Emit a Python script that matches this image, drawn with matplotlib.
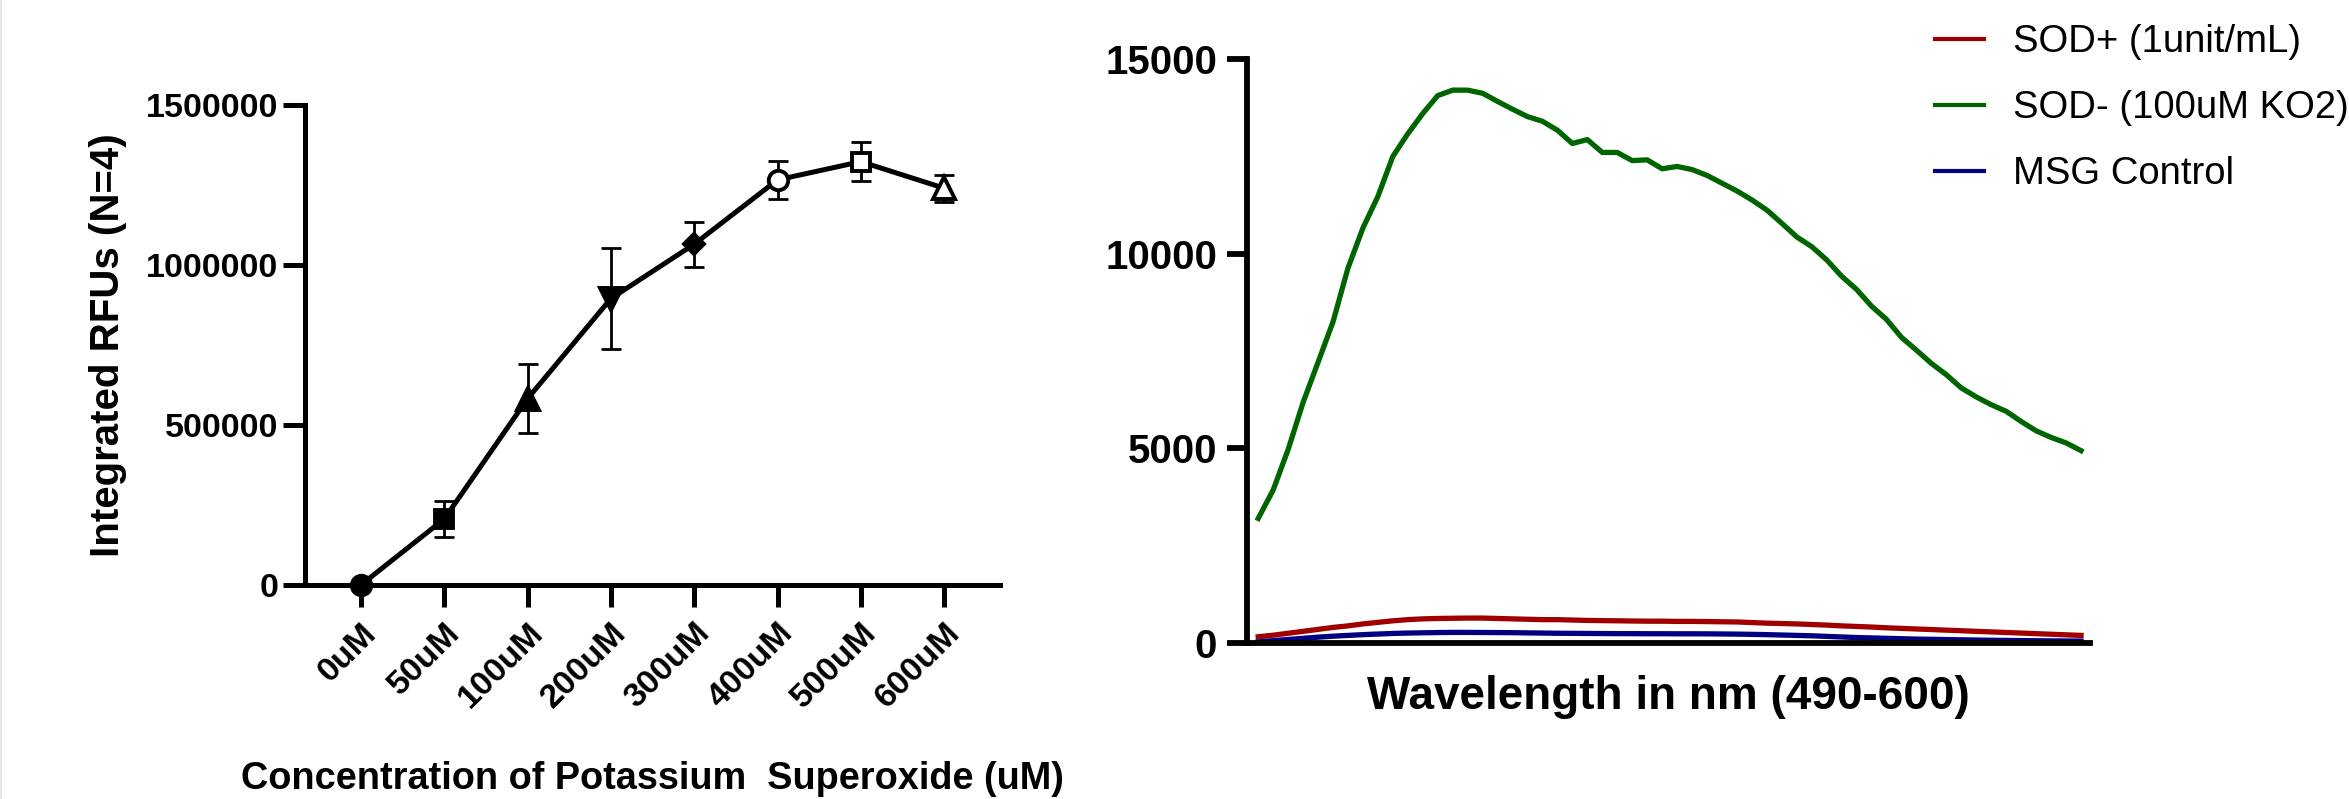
"""Potassium superoxide dose response and emission spectra"""
import matplotlib
matplotlib.use("Agg")
import matplotlib.pyplot as plt
from matplotlib.lines import Line2D

plt.rcParams['font.family'] = ['Liberation Sans', 'DejaVu Sans']

# left panel: integrated RFUs vs KO2 concentration
conc_labels = ["0uM", "50uM", "100uM", "200uM", "300uM", "400uM", "500uM", "600uM"]
rfu_mean = [0, 206000, 582000, 895000, 1065000, 1266000, 1323000, 1240000]
rfu_err = [0, 57000, 108000, 157000, 70000, 60000, 62000, 42000]
markers = ["o", "s", "^", "v", "D", "o", "s", "^"]
filled = [True, True, True, True, True, False, False, False]

# right panel: emission spectra, 490-600 nm in 2 nm steps
wavelength = list(range(490, 601, 2))
sod_minus = [3200, 3930, 4970, 6180, 7210, 8250, 9630, 10660, 11470, 12500,
             13080, 13600, 14060, 14200, 14200, 14120, 13910, 13710, 13520, 13400,
             13170, 12830, 12930, 12600, 12600, 12390, 12410, 12180, 12240, 12160,
             12010, 11810, 11610, 11380, 11120, 10780, 10430, 10180, 9840, 9420,
             9080, 8650, 8310, 7850, 7520, 7180, 6890, 6550, 6320, 6120,
             5950, 5690, 5450, 5280, 5140, 4940]
sod_plus = [160, 200, 250, 300, 350, 400, 440, 490, 530, 570,
            600, 620, 630, 635, 640, 640, 630, 620, 610, 600,
            600, 590, 580, 575, 570, 565, 560, 560, 555, 555,
            550, 545, 540, 525, 510, 500, 490, 475, 460, 440,
            425, 410, 390, 375, 360, 345, 330, 315, 300, 285,
            270, 255, 240, 225, 210, 195]
msg_control = [30, 60, 90, 120, 150, 175, 195, 215, 230, 245,
               255, 262, 268, 272, 272, 270, 268, 265, 260, 255,
               250, 248, 245, 243, 240, 240, 238, 238, 236, 236,
               235, 232, 228, 222, 215, 205, 195, 185, 170, 155,
               140, 130, 120, 110, 100, 95, 88, 82, 76, 70,
               66, 62, 58, 55, 52, 50]

W, H = 2349, 799
fig = plt.figure(figsize=(W / 100, H / 100), dpi=100)

# ---- left panel ----
ax1 = fig.add_axes([305 / W, (H - 585) / H, 695 / W, 480 / H])
xpos = list(range(len(conc_labels)))
ax1.errorbar(xpos, rfu_mean, yerr=rfu_err, fmt="none", ecolor="black",
             elinewidth=2, capsize=7, capthick=2, zorder=2)
ax1.plot(xpos, rfu_mean, color="black", lw=3.6, zorder=3, clip_on=False)
for x, y, m, f in zip(xpos, rfu_mean, markers, filled):
    size = {"o": 14, "s": 13.5, "^": 16, "v": 16, "D": 10}[m]
    ax1.plot(x, y, marker=m, ms=size, color="black",
             mfc="black" if f else "white", mew=2.8, zorder=4, clip_on=False)

ax1.set_xlim(-0.67, 7.67)
ax1.set_ylim(0, 1500000)
ax1.set_yticks([0, 500000, 1000000, 1500000])
ax1.set_yticklabels(["0", "500000", "1000000", "1500000"])
ax1.set_xticks(xpos)
ax1.set_xticklabels(conc_labels, rotation=45, ha="right", va="top",
                    rotation_mode="anchor")
for s in ["top", "right"]:
    ax1.spines[s].set_visible(False)
for s in ["left", "bottom"]:
    ax1.spines[s].set_linewidth(3.6)
ax1.tick_params(axis="both", length=15.5, width=3.6, labelsize=24.5, pad=3.5)
ax1.tick_params(axis="x", pad=8)
for lab in ax1.get_xticklabels() + ax1.get_yticklabels():
    lab.set_fontweight("bold")
ax1.set_ylabel("Integrated RFUs (N=4)", fontsize=29, fontweight="bold",
               va="center", ha="center")
ax1.yaxis.set_label_coords(-0.2835, 0.5)
ax1.set_xlabel("Concentration of Potassium  Superoxide (uM)", fontsize=27.3,
               fontweight="bold", va="baseline")
ax1.xaxis.set_label_coords(0.5, (585 - 789) / 480)

# ---- right panel ----
ax2 = fig.add_axes([1247 / W, (H - 643) / H, 843 / W, 584 / H])
ax2.plot(wavelength, sod_plus, color="#a00000", lw=3.8, label="SOD+ (1unit/mL)")
ax2.plot(wavelength, sod_minus, color="#006400", lw=3.8, label="SOD- (100uM KO2)")
ax2.plot(wavelength, msg_control, color="#000080", lw=3.8, label="MSG Control")
ax2.set_xlim(488.5, 601.2)
ax2.set_ylim(0, 15000)
ax2.set_yticks([0, 5000, 10000, 15000])
ax2.set_xticks([])
for s in ["top", "right"]:
    ax2.spines[s].set_visible(False)
for s in ["left", "bottom"]:
    ax2.spines[s].set_linewidth(4.2)
ax2.tick_params(axis="y", length=14.5, width=4.2, labelsize=29, pad=7)
for lab in ax2.get_yticklabels():
    lab.set_fontweight("bold")
ax2.set_xlabel("Wavelength in nm (490-600)", fontsize=33, fontweight="bold",
               va="baseline")
ax2.xaxis.set_label_coords(0.5, (643 - 709) / 584)

leg = ax2.legend(loc="upper left", bbox_to_anchor=(1935 / W, 1 - 24 / H),
                 bbox_transform=fig.transFigure, frameon=False, fontsize=27.5,
                 handlelength=1.28, handletextpad=0.76, labelspacing=0.79,
                 borderpad=0, borderaxespad=0)
for h in leg.legend_handles:
    h.set_linewidth(3)

# faint border line at the left edge
fig.add_artist(Line2D([1 / W, 1 / W], [0, 1], color="#e6e6e6", lw=1.5,
                      transform=fig.transFigure))

fig.savefig("out.png", dpi=100)
